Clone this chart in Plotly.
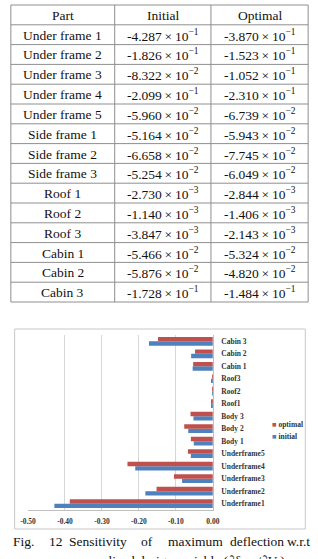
import math
import plotly.graph_objects as go

# ---------------- data ----------------
parts = ["Under frame 1", "Under frame 2", "Under frame 3", "Under frame 4", "Under frame 5",
         "Side frame 1", "Side frame 2", "Side frame 3", "Roof 1", "Roof 2", "Roof 3",
         "Cabin 1", "Cabin 2", "Cabin 3"]
initial = [-4.287e-1, -1.826e-1, -8.322e-2, -2.099e-1, -5.960e-2,
           -5.164e-2, -6.658e-2, -5.254e-2, -2.730e-3, -1.140e-3, -3.847e-3,
           -5.466e-2, -5.876e-2, -1.728e-1]
optimal = [-3.870e-1, -1.523e-1, -1.052e-1, -2.310e-1, -6.739e-2,
           -5.943e-2, -7.745e-2, -6.049e-2, -2.844e-3, -1.406e-3, -2.143e-3,
           -5.324e-2, -4.820e-2, -1.484e-1]
table_header = ["Part", "Initial", "Optimal"]
chart_labels = ["Underframe1", "Underframe2", "Underframe3", "Underframe4", "Underframe5",
                "Body 1", "Body 2", "Body 3", "Roof1", "Roof2", "Roof3",
                "Cabin 1", "Cabin 2", "Cabin 3"]
x_tick_vals = [-0.5, -0.4, -0.3, -0.2, -0.1, 0.0]
x_tick_text = ["-0.50", "-0.40", "-0.30", "-0.20", "-0.10", "0.00"]
caption_words = ["Fig.", "12", "Sensitivity", "of", "maximum", "deflection", "w.r.t"]
caption_line2 = "normalized design variable (∂δ<sub>max</sub>/∂U<sub>i</sub>)"

W, H = 318, 559
RED = "#C0504D"
BLUE = "#4F81BD"
SERIF = "Liberation Serif"


def sci(v):
    e = int(math.floor(math.log10(abs(v))))
    m = v / (10 ** e)
    return "%.3f\u2009×\u200910<sup>−%d</sup>" % (m, -e)


def px(x):
    return x / W


def py(y):
    return 1 - y / H


fig = go.Figure()

# ---------------- bar chart ----------------
fig.add_trace(go.Bar(y=chart_labels, x=initial, orientation="h", name="initial",
                     marker=dict(color=BLUE, line=dict(width=0)), xaxis="x", yaxis="y"))
fig.add_trace(go.Bar(y=chart_labels, x=optimal, orientation="h", name="optimal",
                     marker=dict(color=RED, line=dict(width=0)), xaxis="x", yaxis="y"))

tickfont = dict(family=SERIF, size=7.5, color="#333", weight="bold")

shapes = []
annotations = []

# ---------------- table (grid + cell texts) ----------------
col_edges = [3, 112, 213, 315]
tbl_top, row_h = 5, 19.8
n_rows = len(parts) + 1
row_edges = [tbl_top + row_h * i for i in range(n_rows + 1)]
GRID = "#8f8f8f"
for yy in row_edges:
    shapes.append(dict(type="line", xref="paper", yref="paper",
                       x0=px(col_edges[0]), x1=px(col_edges[-1]), y0=py(yy), y1=py(yy),
                       line=dict(color=GRID, width=1)))
for xx in col_edges:
    shapes.append(dict(type="line", xref="paper", yref="paper",
                       x0=px(xx), x1=px(xx), y0=py(row_edges[0]), y1=py(row_edges[-1]),
                       line=dict(color=GRID, width=1)))

table_cols = [[table_header[0]] + parts,
              [table_header[1]] + [sci(v) for v in initial],
              [table_header[2]] + [sci(v) for v in optimal]]
for c, col in enumerate(table_cols):
    cx = (col_edges[c] + col_edges[c + 1]) / 2
    for r, txt in enumerate(col):
        cy = (row_edges[r] + row_edges[r + 1]) / 2 + 0.5
        annotations.append(dict(
            xref="paper", yref="paper", x=px(cx), y=py(cy),
            xanchor="center", yanchor="middle", showarrow=False, text=txt,
            font=dict(family=SERIF, size=13.5, color="#111")))

# chart border
shapes.append(dict(type="rect", xref="paper", yref="paper",
                   x0=px(7), x1=px(312), y0=py(529), y1=py(329),
                   line=dict(color="#c8c8c8", width=1), layer="below"))

fig.update_layout(
    width=W, height=H, margin=dict(l=0, r=0, t=0, b=0),
    paper_bgcolor="white", plot_bgcolor="white",
    showlegend=False, barmode="group", bargap=0.3, bargroupgap=0,
    xaxis=dict(domain=[px(21), px(215)], range=[-0.5, 0], anchor="y",
               tickvals=x_tick_vals, ticktext=x_tick_text,
               showgrid=True, gridcolor="#d6d6d6", gridwidth=1,
               zeroline=False, showline=True, linecolor="#bfbfbf", linewidth=1,
               ticks="", ticklabelstandoff=4, tickfont=tickfont, fixedrange=True),
    yaxis=dict(domain=[py(510), py(335)], anchor="x", side="right",
               type="category", showgrid=False, zeroline=False,
               showline=True, linecolor="#bfbfbf", linewidth=1,
               ticks="", ticklabelstandoff=6, tickfont=tickfont, fixedrange=True),
)

# legend (as text)
for i, (name, col) in enumerate([("optimal", RED), ("initial", BLUE)]):
    annotations.append(dict(
        xref="paper", yref="paper", x=px(275), y=py(424 + 12 * i),
        xanchor="left", yanchor="middle", showarrow=False,
        text="<span style='color:%s'>■</span> %s" % (col, name),
        font=dict(family=SERIF, size=7.5, color="#333", weight="bold")))

# caption, justified words
word_x = [3, 41, 62, 137, 166, 231, 291]
for w, x in zip(caption_words, word_x):
    annotations.append(dict(
        xref="paper", yref="paper", x=px(x), y=py(541),
        xanchor="left", yanchor="middle", showarrow=False, text=w,
        font=dict(family=SERIF, size=13.5, color="#111")))
annotations.append(dict(
    xref="paper", yref="paper", x=px(180), y=py(561.5),
    xanchor="center", yanchor="middle", showarrow=False, text=caption_line2,
    font=dict(family=SERIF, size=13.5, color="#111")))

fig.update_layout(shapes=shapes, annotations=annotations)

fig.write_html("out.html")
